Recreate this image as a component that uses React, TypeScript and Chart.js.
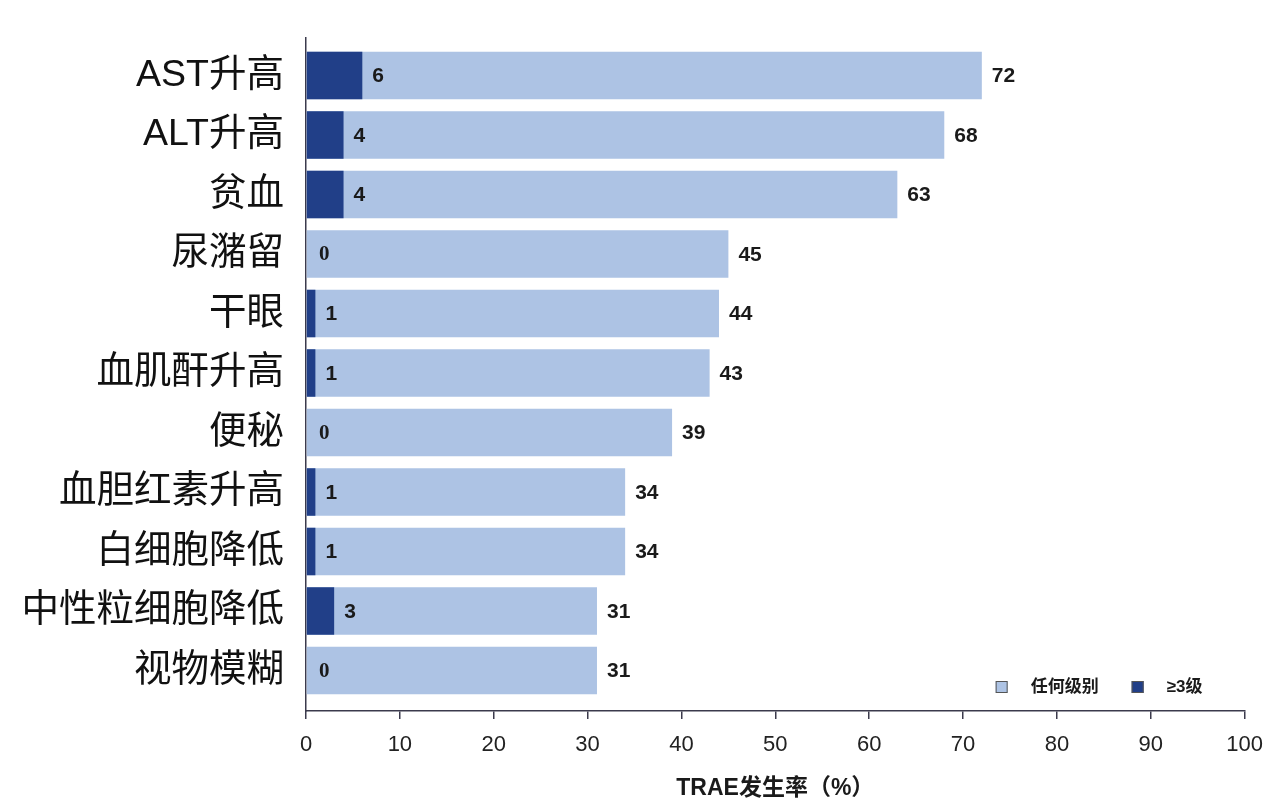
import { useEffect, useRef } from 'react';
import { Chart, registerables, ChartConfiguration, Plugin } from 'chart.js';

Chart.register(...registerables);

// categories, top to bottom
const categories = [
  'AST升高', 'ALT升高', '贫血', '尿潴留', '干眼', '血肌酐升高',
  '便秘', '血胆红素升高', '白细胞降低', '中性粒细胞降低', '视物模糊',
];
// TRAE rate, any grade (%)
const anyGrade = [72, 68, 63, 45, 44, 43, 39, 34, 34, 31, 31];
// TRAE rate, grade >= 3 (%)
const grade3 = [6, 4, 4, 0, 1, 1, 0, 1, 1, 3, 0];
const xTicks = [0, 10, 20, 30, 40, 50, 60, 70, 80, 90, 100];

const LIGHT = '#adc3e4';
const DARK = '#213f88';
const AXIS = '#3b3a4c';
const SANS = '"Liberation Sans", "Noto Sans CJK SC", sans-serif';

// value labels next to the bar ends
const valueLabels: Plugin<'bar'> = {
  id: 'valueLabels',
  afterDatasetsDraw(chart) {
    const ctx = chart.ctx;
    ctx.save();
    ctx.textBaseline = 'middle';
    ctx.textAlign = 'left';
    chart.data.datasets.forEach((ds, di) => {
      const meta = chart.getDatasetMeta(di);
      meta.data.forEach((el: any, i) => {
        const v = ds.data[i] as number;
        if (di === 0 && v === 0) ctx.font = 'bold 21px "Liberation Serif", serif';
        else ctx.font = `bold 21px ${SANS}`;
        ctx.fillStyle = '#1a1a1a';
        ctx.fillText(String(v), el.x + (v === 0 ? 13 : 10), el.y + 1);
      });
    });
    ctx.restore();
  },
};

// legend in the lower right corner of the plot
const cornerLegend: Plugin<'bar'> = {
  id: 'cornerLegend',
  afterDraw(chart) {
    const { ctx, chartArea } = chart;
    const y = chartArea.bottom - 24;
    let x = chartArea.right - 249;
    ctx.save();
    ctx.font = `bold 17px ${SANS}`;
    ctx.textBaseline = 'middle';
    ctx.textAlign = 'left';
    const items: [string, string][] = [['任何级别', LIGHT], ['≥3级', DARK]];
    items.forEach(([label, color]) => {
      ctx.fillStyle = color;
      ctx.fillRect(x, y - 6, 12, 12);
      ctx.strokeStyle = '#555';
      ctx.lineWidth = 1;
      ctx.strokeRect(x + 0.5, y - 5.5, 11, 11);
      ctx.fillStyle = '#1a1a1a';
      ctx.fillText(label, x + 35, y);
      x += 136;
    });
    ctx.restore();
  },
};

export default function App() {
  const canvasRef = useRef<HTMLCanvasElement>(null);

  useEffect(() => {
    if (!canvasRef.current) return;
    const config: ChartConfiguration<'bar'> = {
      type: 'bar',
      data: {
        labels: categories,
        datasets: [
          { label: '≥3级', data: grade3, backgroundColor: DARK, grouped: false, barPercentage: 0.8, categoryPercentage: 1 },
          { label: '任何级别', data: anyGrade, backgroundColor: LIGHT, grouped: false, barPercentage: 0.8, categoryPercentage: 1 },
        ],
      },
      options: {
        indexAxis: 'y',
        animation: false,
        responsive: true,
        maintainAspectRatio: false,
        layout: { padding: { top: 38, right: 30, left: 0, bottom: 0 } },
        plugins: { legend: { display: false }, tooltip: { enabled: false } },
        scales: {
          x: {
            min: 0,
            max: 100,
            afterBuildTicks: (scale: any) => {
              scale.ticks = xTicks.map((v) => ({ value: v }));
            },
            afterFit: (scale: any) => {
              scale.height = 99;
            },
            grid: { display: true, drawOnChartArea: false, drawTicks: true, tickLength: 8, color: AXIS, lineWidth: 1.5 },
            border: { display: true, color: AXIS, width: 1.5 },
            ticks: { color: '#222', font: { family: SANS, size: 22 }, padding: 13 },
            title: {
              display: true,
              text: 'TRAE发生率（%）',
              color: '#1a1a1a',
              font: { family: SANS, size: 23, weight: 'bold' },
              padding: { top: 4, bottom: 8 },
            },
          },
          y: {
            afterBuildTicks: (scale: any) => {
              // a little empty space above the first and below the last bar
              scale._startValue = -0.5 - 0.13;
              scale._valueRange = categories.length + 0.13 + 0.18;
            },
            afterFit: (scale: any) => {
              scale.width = 306;
            },
            grid: { display: false },
            border: { display: true, color: AXIS, width: 1.5 },
            ticks: { color: '#111', font: { family: SANS, size: 37.5 }, padding: 14 },
          },
        },
      },
      plugins: [valueLabels, cornerLegend],
    };
    const chart = new Chart(canvasRef.current, config);
    return () => chart.destroy();
  }, []);

  return (
    <div style={{ position: 'fixed', left: 0, top: 0, width: 1276, height: 810, background: '#fff' }}>
      <canvas ref={canvasRef}></canvas>
    </div>
  );
}
